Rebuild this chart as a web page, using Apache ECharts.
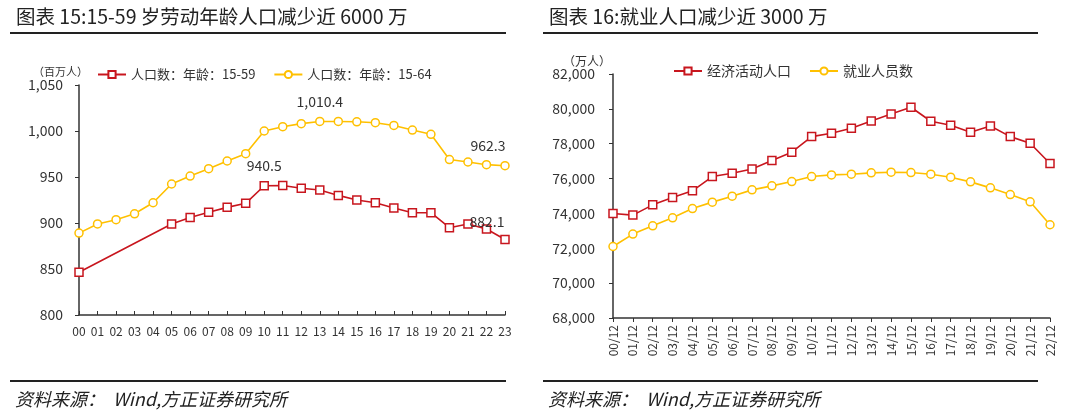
<!DOCTYPE html>
<html>
<head>
<meta charset="utf-8">
<script src="https://cdn.jsdelivr.net/npm/echarts@6/dist/echarts.min.js"></script>
<style>
html,body{margin:0;padding:0;background:#fff;}
#c{width:1080px;height:419px;}
</style>
</head>
<body>
<div id="c"></div>
<script>
// ---- Left chart data (百万人) ----
const leftYears = ['00','01','02','03','04','05','06','07','08','09','10','11','12','13','14','15','16','17','18','19','20','21','22','23'];
const pop1559 = [846.4,null,null,null,null,899.0,906.0,911.6,917.0,921.4,940.5,940.7,937.7,935.9,930.0,925.0,922.0,916.3,911.2,911.2,894.9,899.0,893.5,882.1];
const pop1564 = [889.0,899.0,903.6,910.0,922.0,942.4,951.0,959.0,967.4,975.4,1000.0,1004.7,1008.0,1010.4,1010.4,1010.0,1009.0,1006.0,1001.0,996.4,969.0,966.3,963.4,962.3];
const leftLabeled1559 = {10: 940.5, 23: 882.1};
const leftLabeled1564 = {13: 1010.4, 23: 962.3};
const leftYTicks = [800, 850, 900, 950, 1000, 1050];

// ---- Right chart data (万人) ----
const rightMonths = ['00/12','01/12','02/12','03/12','04/12','05/12','06/12','07/12','08/12','09/12','10/12','11/12','12/12','13/12','14/12','15/12','16/12','17/12','18/12','19/12','20/12','21/12','22/12'];
const econActive = [73994,73903,74493,74911,75295,76115,76307,76553,77031,77513,78407,78602,78888,79307,79708,80092,79289,79060,78659,79020,78407,78028,76863];
const employed = [72103,72814,73290,73748,74281,74648,74991,75352,75581,75828,76115,76212,76252,76327,76367,76345,76252,76080,75811,75467,75084,74665,73351];
const rightYTicks = [68000, 70000, 72000, 74000, 76000, 78000, 80000, 82000];

const RED = '#C8161E', YEL = '#FFC000', TXT = '#333333';
const FONT = '"Noto Sans CJK SC", "Noto Sans", sans-serif';
const fmt = v => v.toLocaleString('en-US');

function labeled(data, map, offsets) {
  return data.map((v, i) => {
    if (map[i] !== undefined) {
      return {value: v, label: {show: true, position: 'top', distance: 8, offset: offsets[i] || [0,0],
        formatter: () => fmt(map[i]), color: TXT, fontSize: 14, fontFamily: FONT}};
    }
    return v;
  });
}

const chart = echarts.init(document.getElementById('c'), null, {renderer: 'canvas'});
const axisLine = {show: true, lineStyle: {color: '#333', width: 1.5}};
const titleStyle = {fontSize: 19.5, fontWeight: 'normal', color: '#222', fontFamily: FONT};
const footStyle = {fontSize: 18, fontWeight: 'normal', fontStyle: 'italic', color: '#222', fontFamily: FONT};
chart.setOption({
  animation: false,
  textStyle: {fontFamily: FONT},
  title: [
    {text: '图表 15:15-59 岁劳动年龄人口减少近 6000 万', left: 11, top: 2, textStyle: titleStyle},
    {text: '图表 16:就业人口减少近 3000 万', left: 544, top: 2, textStyle: titleStyle},
    {text: '资料来源：  Wind,方正证券研究所', left: 10, top: 385, textStyle: footStyle},
    {text: '资料来源：  Wind,方正证券研究所', left: 543, top: 385, textStyle: footStyle}
  ],
  graphic: [
    {type: 'line', shape: {x1: 10, y1: 33, x2: 506, y2: 33}, style: {stroke: '#222', lineWidth: 2}},
    {type: 'line', shape: {x1: 543, y1: 33, x2: 1038, y2: 33}, style: {stroke: '#222', lineWidth: 2}},
    {type: 'line', shape: {x1: 10, y1: 381, x2: 506, y2: 381}, style: {stroke: '#222', lineWidth: 2}},
    {type: 'line', shape: {x1: 543, y1: 381, x2: 1038, y2: 381}, style: {stroke: '#222', lineWidth: 2}}
  ],
  legend: [
    {left: 92, top: 63, itemWidth: 28, itemHeight: 9, itemGap: 18,
     textStyle: {fontSize: 13, color: TXT, fontFamily: FONT},
     data: ['人口数：年龄：15-59', '人口数：年龄：15-64']},
    {left: 668, top: 59, itemWidth: 28, itemHeight: 9, itemGap: 18,
     textStyle: {fontSize: 14, color: TXT, fontFamily: FONT},
     data: ['经济活动人口', '就业人员数']}
  ],
  grid: [
    {left: 79, right: 575, top: 85, bottom: 104, containLabel: false},
    {left: 613, right: 30, top: 74, bottom: 101, containLabel: false}
  ],
  xAxis: [
    {type: 'category', gridIndex: 0, data: leftYears, boundaryGap: false,
     axisLine: axisLine, axisTick: {show: true, inside: true, length: 4, lineStyle: {color: '#333'}},
     axisLabel: {color: TXT, fontSize: 12, margin: 10, interval: 0, fontFamily: FONT}},
    {type: 'category', gridIndex: 1, data: rightMonths, boundaryGap: false,
     axisLine: axisLine, axisTick: {show: true, length: 4, lineStyle: {color: '#333'}},
     axisLabel: {color: TXT, fontSize: 12, margin: 7, interval: 0, rotate: 90, fontFamily: FONT}}
  ],
  yAxis: [
    {type: 'value', gridIndex: 0, min: leftYTicks[0], max: leftYTicks[leftYTicks.length-1], interval: 50,
     name: '（百万人）', nameLocation: 'end', nameGap: 8,
     nameTextStyle: {color: TXT, fontSize: 11, align: 'right', padding: [0, -9, 0, 0]},
     axisLine: axisLine, axisTick: {show: true, length: 4, lineStyle: {color: '#333'}},
     splitLine: {show: false},
     axisLabel: {color: TXT, fontSize: 14, margin: 16, formatter: v => fmt(v), fontFamily: FONT}},
    {type: 'value', gridIndex: 1, min: rightYTicks[0], max: rightYTicks[rightYTicks.length-1], interval: 2000,
     name: '（万人）', nameLocation: 'end', nameGap: 6,
     nameTextStyle: {color: TXT, fontSize: 12, align: 'right', padding: [0, 2, 0, 0]},
     axisLine: axisLine, axisTick: {show: true, length: 4, lineStyle: {color: '#333'}},
     splitLine: {show: false},
     axisLabel: {color: TXT, fontSize: 14, margin: 18, formatter: v => fmt(v), fontFamily: FONT}}
  ],
  series: [
    {name: '人口数：年龄：15-59', type: 'line', xAxisIndex: 0, yAxisIndex: 0,
     data: labeled(pop1559, leftLabeled1559, {23: [-18, 2]}), connectNulls: true,
     symbol: 'rect', symbolSize: 8, lineStyle: {color: RED, width: 1.6},
     itemStyle: {color: '#fff', borderColor: RED, borderWidth: 1.5}},
    {name: '人口数：年龄：15-64', type: 'line', xAxisIndex: 0, yAxisIndex: 0,
     data: labeled(pop1564, leftLabeled1564, {23: [-17, 0]}),
     symbol: 'circle', symbolSize: 8, lineStyle: {color: YEL, width: 1.6},
     itemStyle: {color: '#fff', borderColor: YEL, borderWidth: 1.5}},
    {name: '经济活动人口', type: 'line', xAxisIndex: 1, yAxisIndex: 1, data: econActive,
     symbol: 'rect', symbolSize: 8, lineStyle: {color: RED, width: 1.6},
     itemStyle: {color: '#fff', borderColor: RED, borderWidth: 1.5}},
    {name: '就业人员数', type: 'line', xAxisIndex: 1, yAxisIndex: 1, data: employed,
     symbol: 'circle', symbolSize: 8, lineStyle: {color: YEL, width: 1.6},
     itemStyle: {color: '#fff', borderColor: YEL, borderWidth: 1.5}}
  ]
});
</script>
</body>
</html>
